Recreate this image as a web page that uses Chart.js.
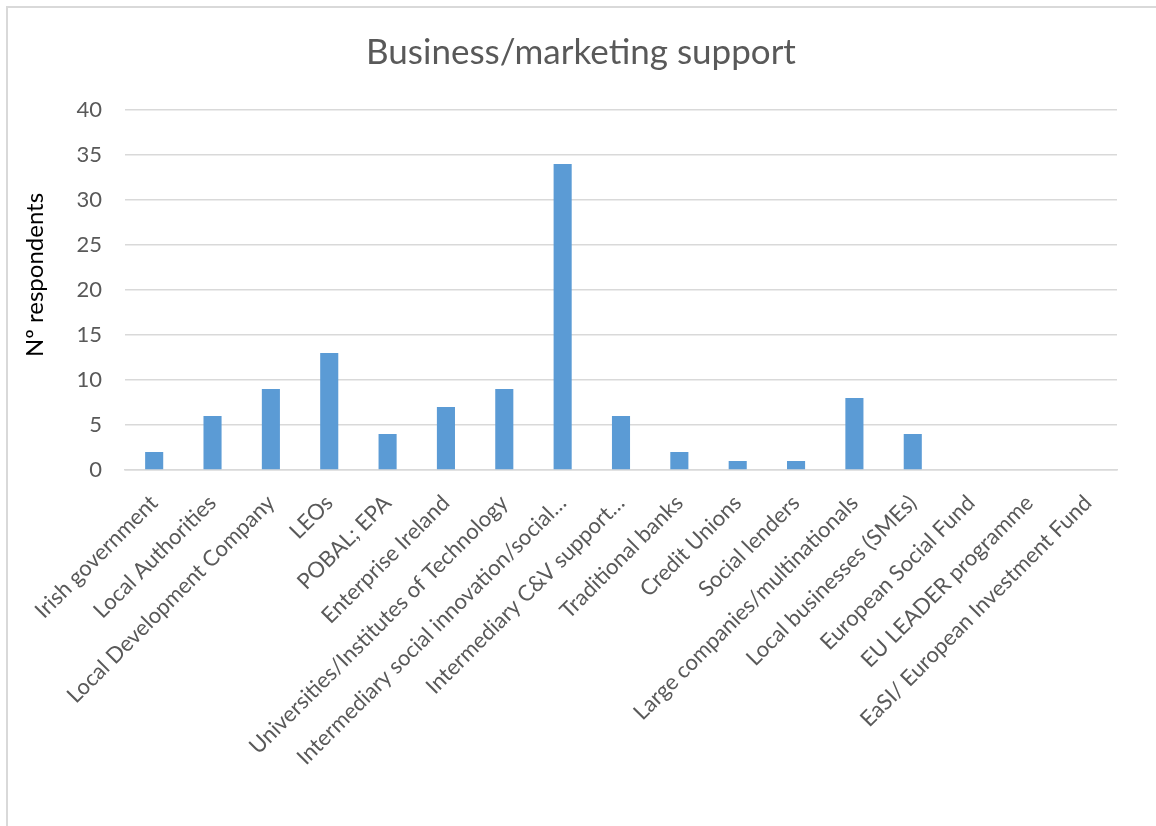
<!DOCTYPE html>
<html>
<head>
<meta charset="utf-8">
<script src="https://cdn.jsdelivr.net/npm/chart.js@4/dist/chart.umd.min.js"></script>
<style>
  body { margin: 0; background: #fff; overflow: hidden; }
  #wrap { position: relative; width: 1156px; height: 826px; }
  #frame { position: absolute; left: 6px; top: 6px; width: 1200px; height: 900px;
           border-top: 2px solid #d9d9d9; border-left: 2px solid #d9d9d9; }
  canvas { position: absolute; left: 0; top: 0; }
</style>
</head>
<body>
<div id="wrap">
  <div id="frame"></div>
  <canvas id="myCanvas" width="1156" height="826"></canvas>
</div>
<script>
const categories = [
  "Irish government",
  "Local Authorities",
  "Local Development Company",
  "LEOs",
  "POBAL; EPA",
  "Enterprise Ireland",
  "Universities/Institutes of Technology",
  "Intermediary social innovation/social…",
  "Intermediary C&V support…",
  "Traditional banks",
  "Credit Unions",
  "Social lenders",
  "Large companies/multinationals",
  "Local businesses (SMEs)",
  "European Social Fund",
  "EU LEADER programme",
  "EaSI/ European Investment Fund"
];
const respondents = [2, 6, 9, 13, 4, 7, 9, 34, 6, 2, 1, 1, 8, 4, 0, 0, 0];
const yTicks = [0, 5, 10, 15, 20, 25, 30, 35, 40];

const textGrey = "#595959";
const fontFamily = "Lato, 'Open Sans', sans-serif";

// rotated y-axis caption, placed by hand so it sits where the layout expects
const yCaption = {
  id: "yCaption",
  afterDraw(chart) {
    const ctx = chart.ctx;
    ctx.save();
    ctx.translate(35, 275);
    ctx.rotate(-Math.PI / 2);
    ctx.font = "24px " + fontFamily;
    ctx.fillStyle = "#000";
    ctx.textAlign = "center";
    ctx.textBaseline = "middle";
    ctx.fillText("Nº respondents", 0, 0);
    ctx.restore();
  }
};

const ctx = document.getElementById("myCanvas").getContext("2d");
new Chart(ctx, {
  type: "bar",
  data: {
    labels: categories,
    datasets: [{
      data: respondents,
      backgroundColor: "#5B9BD5",
      borderWidth: 0,
      barPercentage: 0.31,
      categoryPercentage: 1.0
    }]
  },
  options: {
    responsive: false,
    animation: false,
    layout: { padding: { left: 45, right: 39, top: 0, bottom: 0 } },
    plugins: {
      legend: { display: false },
      tooltip: { enabled: false },
      title: {
        display: true,
        text: "Business/marketing support",
        color: textGrey,
        font: { family: fontFamily, size: 35, weight: "normal" },
        padding: { top: 32, bottom: 36 }
      }
    },
    scales: {
      x: {
        grid: { display: false, drawTicks: false },
        border: { display: true, color: "#d9d9d9", width: 1.5 },
        ticks: {
          autoSkip: false,
          minRotation: 45,
          maxRotation: 45,
          padding: 20,
          color: textGrey,
          font: { family: fontFamily, size: 22 }
        },
        afterFit(scale) { scale.height = 356; }
      },
      y: {
        min: 0,
        max: 40,
        afterBuildTicks(scale) { scale.ticks = yTicks.map(v => ({ value: v })); },
        grid: { color: "#d9d9d9", lineWidth: 1.5, drawTicks: false },
        border: { display: false },
        ticks: {
          padding: 23,
          color: textGrey,
          font: { family: fontFamily, size: 22 }
        },
        afterFit(scale) { scale.width = 80; }
      }
    }
  },
  plugins: [yCaption]
});
</script>
</body>
</html>
